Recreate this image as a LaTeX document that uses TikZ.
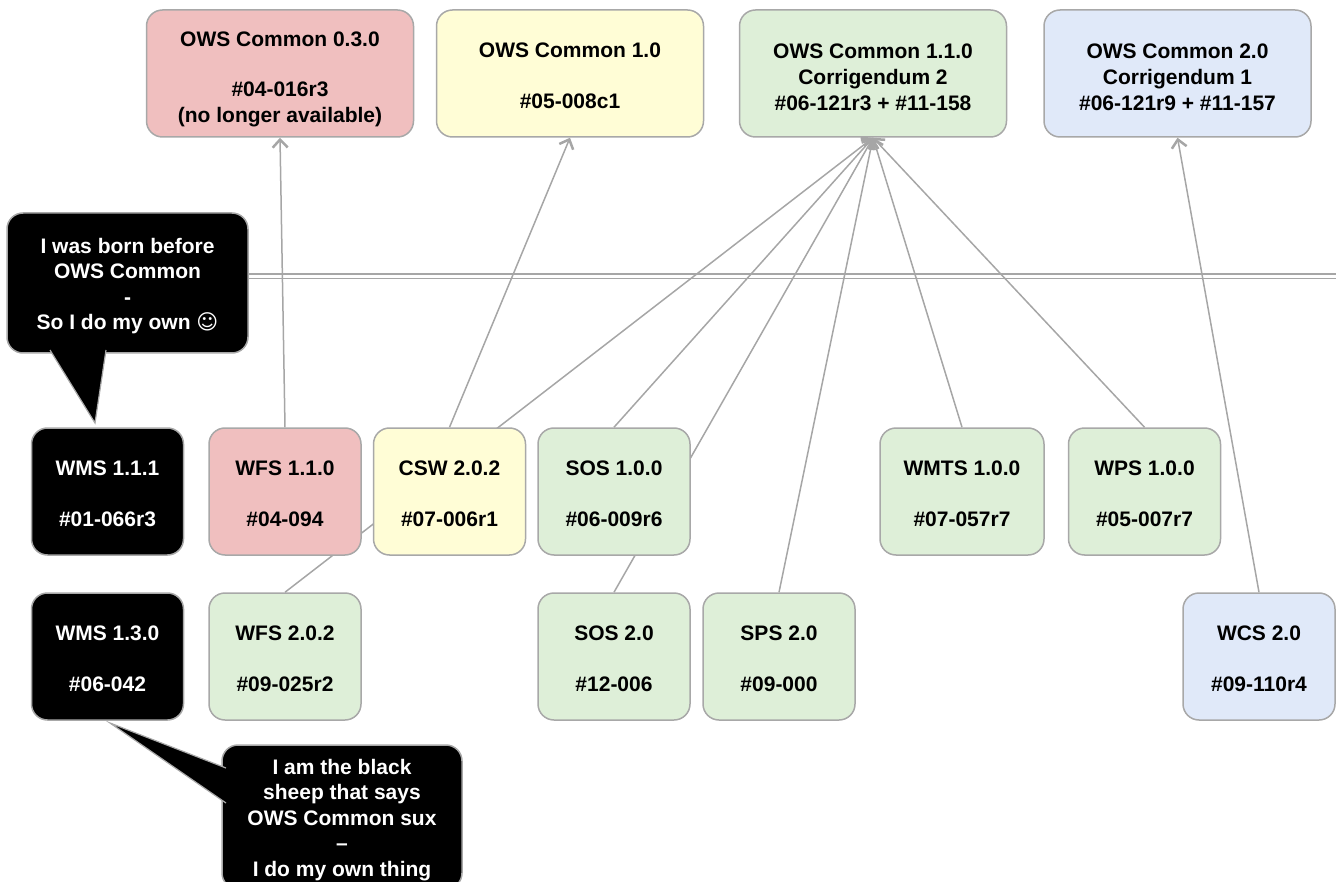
\documentclass[tikz,border=0pt]{standalone}
\usepackage{fontspec}
\setmainfont{Liberation Sans}
\newfontfamily\symfont{DejaVu Sans}
\usetikzlibrary{arrows.meta,backgrounds,calc}
\definecolor{rosefill}{HTML}{F0BFBF}
\definecolor{lemonfill}{HTML}{FFFDD6}
\definecolor{mintfill}{HTML}{DEEFD8}
\definecolor{skyfill}{HTML}{E0E9F9}
\definecolor{rimgray}{HTML}{A8A8A8}
\definecolor{linkgray}{HTML}{A6A6A6}
% invisible strut that makes the first line taller, lowering the text block
\newcommand{\dropby}[1]{\rule{0pt}{#1}}

\begin{document}
\begin{tikzpicture}[x=1pt,y=-1pt,
  box/.style={draw=rimgray, line width=1.5pt, rounded corners=16pt, align=center,
    inner sep=0pt, font=\fontsize{21}{25.5}\selectfont\bfseries, text=black},
  spec/.style={box, minimum width=152pt, minimum height=127pt},
  widespec/.style={box, minimum width=164pt, minimum height=127pt},
  common/.style={box, minimum width=267pt, minimum height=127pt},
  blackspec/.style={spec, fill=black, text=white},
  note/.style={box, fill=black, text=white},
  tail/.style={draw=rimgray, line width=1.2pt, fill=black, line join=miter},
  link/.style={draw=linkgray, line width=1.5pt,
    -{Straight Barb[length=8pt,width=15pt,line width=2.5pt]}},
  rail/.style={draw=linkgray, line width=1.4pt, double=white, double distance=3.2pt}
]
\useasboundingbox (0,0) rectangle (1338,882);

% OWS Common releases
\node[common, fill=rosefill]  (ows030) at (280,73.5)    {\dropby{25.5pt}OWS Common 0.3.0\\[25pt]\#04-016r3\\(no longer available)};
\node[common, fill=lemonfill] (ows10)  at (570,73.5)    {\dropby{19.5pt}OWS Common 1.0\\[25.5pt]\#05-008c1};
\node[common, fill=mintfill]  (ows110) at (873,73.5)    {\dropby{21.5pt}OWS Common 1.1.0\\[0.5pt]Corrigendum 2\\[0.5pt]\#06-121r3 + \#11-158};
\node[common, fill=skyfill]   (ows20)  at (1177.5,73.5) {\dropby{21.5pt}OWS Common 2.0\\[0.5pt]Corrigendum 1\\[0.5pt]\#06-121r9 + \#11-157};

% service specifications, first row
\node[blackspec]              (wms111) at (107.5,491.5) {\dropby{19.5pt}WMS 1.1.1\\[25.5pt]\#01-066r3};
\node[spec, fill=rosefill]    (wfs110) at (285,491.5)   {\dropby{19.5pt}WFS 1.1.0\\[25.5pt]\#04-094};
\node[spec, fill=lemonfill]   (csw202) at (449.5,491.5) {\dropby{19.5pt}CSW 2.0.2\\[25.5pt]\#07-006r1};
\node[spec, fill=mintfill]    (sos100) at (614,491.5)   {\dropby{19.5pt}SOS 1.0.0\\[25.5pt]\#06-009r6};
\node[widespec, fill=mintfill](wmts100) at (962,491.5)  {\dropby{19.5pt}WMTS 1.0.0\\[25.5pt]\#07-057r7};
\node[spec, fill=mintfill]    (wps100) at (1144.5,491.5){\dropby{19.5pt}WPS 1.0.0\\[25.5pt]\#05-007r7};

% service specifications, second row
\node[blackspec]              (wms130) at (107.5,656.5) {\dropby{19.5pt}WMS 1.3.0\\[25.5pt]\#06-042};
\node[spec, fill=mintfill]    (wfs202) at (285,656.5)   {\dropby{19.5pt}WFS 2.0.2\\[25.5pt]\#09-025r2};
\node[spec, fill=mintfill]    (sos20)  at (614,656.5)   {\dropby{19.5pt}SOS 2.0\\[25.5pt]\#12-006};
\node[spec, fill=mintfill]    (sps20)  at (779,656.5)   {\dropby{19.5pt}SPS 2.0\\[25.5pt]\#09-000};
\node[spec, fill=skyfill]     (wcs20)  at (1259,656.5)  {\dropby{19.5pt}WCS 2.0\\[25.5pt]\#09-110r4};

% speech bubbles
\node[note, minimum width=241pt, minimum height=140pt] (born) at (127.5,283)
  {\dropby{21.5pt}I was born before\\OWS Common\\-\\So I do my own {\symfont\mdseries ☺}};
\node[note, minimum width=240pt, minimum height=144pt] (sheep) at (342,817)
  {\dropby{20.5pt}I am the black\\sheep that says\\OWS Common sux\\–\\I do my own thing};

\coordinate (bornTip)  at (95,423);
\coordinate (sheepTip) at (110,723);
\filldraw[tail] (50,350) -- (bornTip) -- (106,350);
\filldraw[tail] (226,768) -- (sheepTip) -- (226,803);

% dependency links, drawn beneath the boxes
\coordinate (railL) at (248,276.5);
\coordinate (railR) at (1336,276.5);
\begin{pgfonlayer}{background}
  \draw[rail] (railL) -- (railR);
  \draw[link] (wfs110.north) -- (ows030.south);
  \draw[link] (csw202.north) -- (ows10.south);
  \draw[link] (wfs202.north) -- (ows110.south);
  \draw[link] (sos100.north) -- (ows110.south);
  \draw[link] (sos20.north)  -- (ows110.south);
  \draw[link] (sps20.north)  -- (ows110.south);
  \draw[link] (wmts100.north) -- (ows110.south);
  \draw[link] (wps100.north) -- (ows110.south);
  \draw[link] (wcs20.north)  -- (ows20.south);
\end{pgfonlayer}
\end{tikzpicture}
\end{document}
